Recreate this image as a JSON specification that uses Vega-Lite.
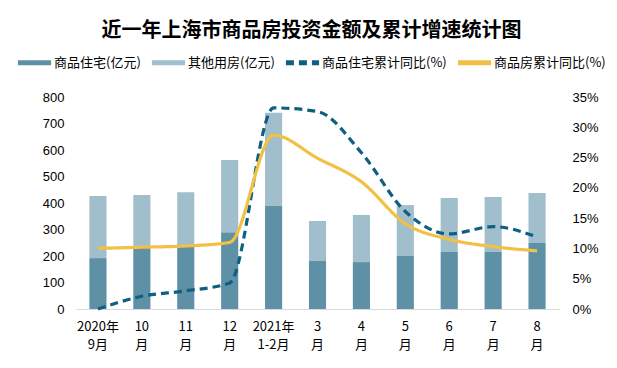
{
  "$schema": "https://vega.github.io/schema/vega-lite/v6.json",
  "autosize": "none",
  "width": 483,
  "height": 212,
  "padding": {"left": 76, "top": 97, "right": 58, "bottom": 59},
  "background": "white",
  "title": {
    "text": "近一年上海市商品房投资金额及累计增速统计图",
    "font": "Noto Sans CJK SC",
    "fontSize": 20,
    "fontWeight": "bold",
    "color": "#000000",
    "anchor": "middle",
    "frame": "group",
    "dx": -6,
    "offset": 2
  },
  "datasets": {
    "bars": [
      {"month": "2020年|9月", "series": "商品住宅(亿元)", "value": 192},
      {"month": "2020年|9月", "series": "其他用房(亿元)", "value": 234},
      {"month": "10|月", "series": "商品住宅(亿元)", "value": 231},
      {"month": "10|月", "series": "其他用房(亿元)", "value": 199},
      {"month": "11|月", "series": "商品住宅(亿元)", "value": 235},
      {"month": "11|月", "series": "其他用房(亿元)", "value": 206},
      {"month": "12|月", "series": "商品住宅(亿元)", "value": 290},
      {"month": "12|月", "series": "其他用房(亿元)", "value": 272},
      {"month": "2021年|1-2月", "series": "商品住宅(亿元)", "value": 389},
      {"month": "2021年|1-2月", "series": "其他用房(亿元)", "value": 352},
      {"month": "3|月", "series": "商品住宅(亿元)", "value": 181},
      {"month": "3|月", "series": "其他用房(亿元)", "value": 151},
      {"month": "4|月", "series": "商品住宅(亿元)", "value": 177},
      {"month": "4|月", "series": "其他用房(亿元)", "value": 178},
      {"month": "5|月", "series": "商品住宅(亿元)", "value": 200},
      {"month": "5|月", "series": "其他用房(亿元)", "value": 192},
      {"month": "6|月", "series": "商品住宅(亿元)", "value": 215},
      {"month": "6|月", "series": "其他用房(亿元)", "value": 204},
      {"month": "7|月", "series": "商品住宅(亿元)", "value": 215},
      {"month": "7|月", "series": "其他用房(亿元)", "value": 208},
      {"month": "8|月", "series": "商品住宅(亿元)", "value": 249},
      {"month": "8|月", "series": "其他用房(亿元)", "value": 189}
    ],
    "lines": [
      {"month": "2020年|9月", "series": "商品住宅累计同比(%)", "pct": 0.0},
      {"month": "10|月", "series": "商品住宅累计同比(%)", "pct": 2.1},
      {"month": "11|月", "series": "商品住宅累计同比(%)", "pct": 3.0},
      {"month": "12|月", "series": "商品住宅累计同比(%)", "pct": 4.3},
      {"month": "2021年|1-2月", "series": "商品住宅累计同比(%)", "pct": 33.2},
      {"month": "3|月", "series": "商品住宅累计同比(%)", "pct": 32.6},
      {"month": "4|月", "series": "商品住宅累计同比(%)", "pct": 25.8},
      {"month": "5|月", "series": "商品住宅累计同比(%)", "pct": 16.1},
      {"month": "6|月", "series": "商品住宅累计同比(%)", "pct": 12.4},
      {"month": "7|月", "series": "商品住宅累计同比(%)", "pct": 13.6},
      {"month": "8|月", "series": "商品住宅累计同比(%)", "pct": 11.9},
      {"month": "2020年|9月", "series": "商品房累计同比(%)", "pct": 10.0},
      {"month": "10|月", "series": "商品房累计同比(%)", "pct": 10.2},
      {"month": "11|月", "series": "商品房累计同比(%)", "pct": 10.4},
      {"month": "12|月", "series": "商品房累计同比(%)", "pct": 11.0},
      {"month": "2021年|1-2月", "series": "商品房累计同比(%)", "pct": 28.7},
      {"month": "3|月", "series": "商品房累计同比(%)", "pct": 24.9},
      {"month": "4|月", "series": "商品房累计同比(%)", "pct": 21.0},
      {"month": "5|月", "series": "商品房累计同比(%)", "pct": 14.1},
      {"month": "6|月", "series": "商品房累计同比(%)", "pct": 11.5},
      {"month": "7|月", "series": "商品房累计同比(%)", "pct": 10.3},
      {"month": "8|月", "series": "商品房累计同比(%)", "pct": 9.6}
    ]
  },
  "encoding": {
    "x": {
      "field": "month",
      "type": "nominal",
      "sort": null,
      "scale": {"paddingInner": 0.61, "paddingOuter": 0.305},
      "axis": {
        "title": null,
        "labelAngle": 0,
        "labelExpr": "split(datum.label, '|')",
        "labelFont": "Noto Sans CJK SC",
        "labelFontSize": 13,
        "labelColor": "#000000",
        "labelLineHeight": 18,
        "labelPadding": 11,
        "ticks": false,
        "domainColor": "#d9d9d9",
        "domainWidth": 1,
        "grid": false
      }
    }
  },
  "layer": [
    {
      "data": {"name": "bars"},
      "mark": {"type": "bar"},
      "encoding": {
        "y": {
          "field": "value",
          "type": "quantitative",
          "stack": "zero",
          "scale": {"domain": [0, 800]},
          "axis": {
            "title": null,
            "values": [0, 100, 200, 300, 400, 500, 600, 700, 800],
            "grid": false,
            "domain": false,
            "ticks": false,
            "labelFont": "Liberation Sans",
            "labelFontSize": 13,
            "labelColor": "#000000",
            "labelPadding": 12
          }
        },
        "color": {
          "field": "series",
          "type": "nominal",
          "scale": {
            "domain": ["商品住宅(亿元)", "其他用房(亿元)", "商品住宅累计同比(%)", "商品房累计同比(%)"],
            "range": ["#5e90a6", "#a0becb", "#0f5f80", "#f2c042"]
          },
          "legend": {
            "title": null,
            "orient": "none",
            "legendX": -61,
            "legendY": -54,
            "direction": "horizontal",
            "columns": 4,
            "symbolType": "stroke",
            "symbolSize": 1100,
            "symbolStrokeWidth": 5,
            "labelFont": "Noto Sans CJK SC",
            "labelFontSize": 13,
            "labelColor": "#000000",
            "labelOffset": 0,
            "columnPadding": 0,
            "labelLimit": 200,
            "encode": {
              "symbols": {
                "update": {
                  "stroke": {"scale": "color", "field": "value"},
                  "fill": {"value": "transparent"}
                }
              }
            }
          }
        },
        "strokeDash": {
          "field": "series",
          "type": "nominal",
          "scale": {
            "domain": ["商品住宅(亿元)", "其他用房(亿元)", "商品住宅累计同比(%)", "商品房累计同比(%)"],
            "range": [[1, 0], [1, 0], [8, 5], [1, 0]]
          },
          "legend": null
        },
        "order": {"field": "series", "sort": "descending"}
      }
    },
    {
      "data": {"name": "lines"},
      "mark": {"type": "line", "interpolate": "monotone", "strokeWidth": 3.2},
      "encoding": {
        "y": {
          "field": "pct",
          "type": "quantitative",
          "scale": {"domain": [0, 35]},
          "axis": {
            "title": null,
            "orient": "right",
            "values": [0, 5, 10, 15, 20, 25, 30, 35],
            "labelExpr": "datum.value + '%'",
            "grid": false,
            "domain": false,
            "ticks": false,
            "labelFont": "Liberation Sans",
            "labelFontSize": 13,
            "labelColor": "#000000",
            "labelPadding": 13
          }
        },
        "color": {"field": "series", "type": "nominal"},
        "strokeDash": {"field": "series", "type": "nominal", "legend": null}
      }
    }
  ],
  "resolve": {"scale": {"y": "independent"}},
  "config": {"view": {"stroke": null}}
}
